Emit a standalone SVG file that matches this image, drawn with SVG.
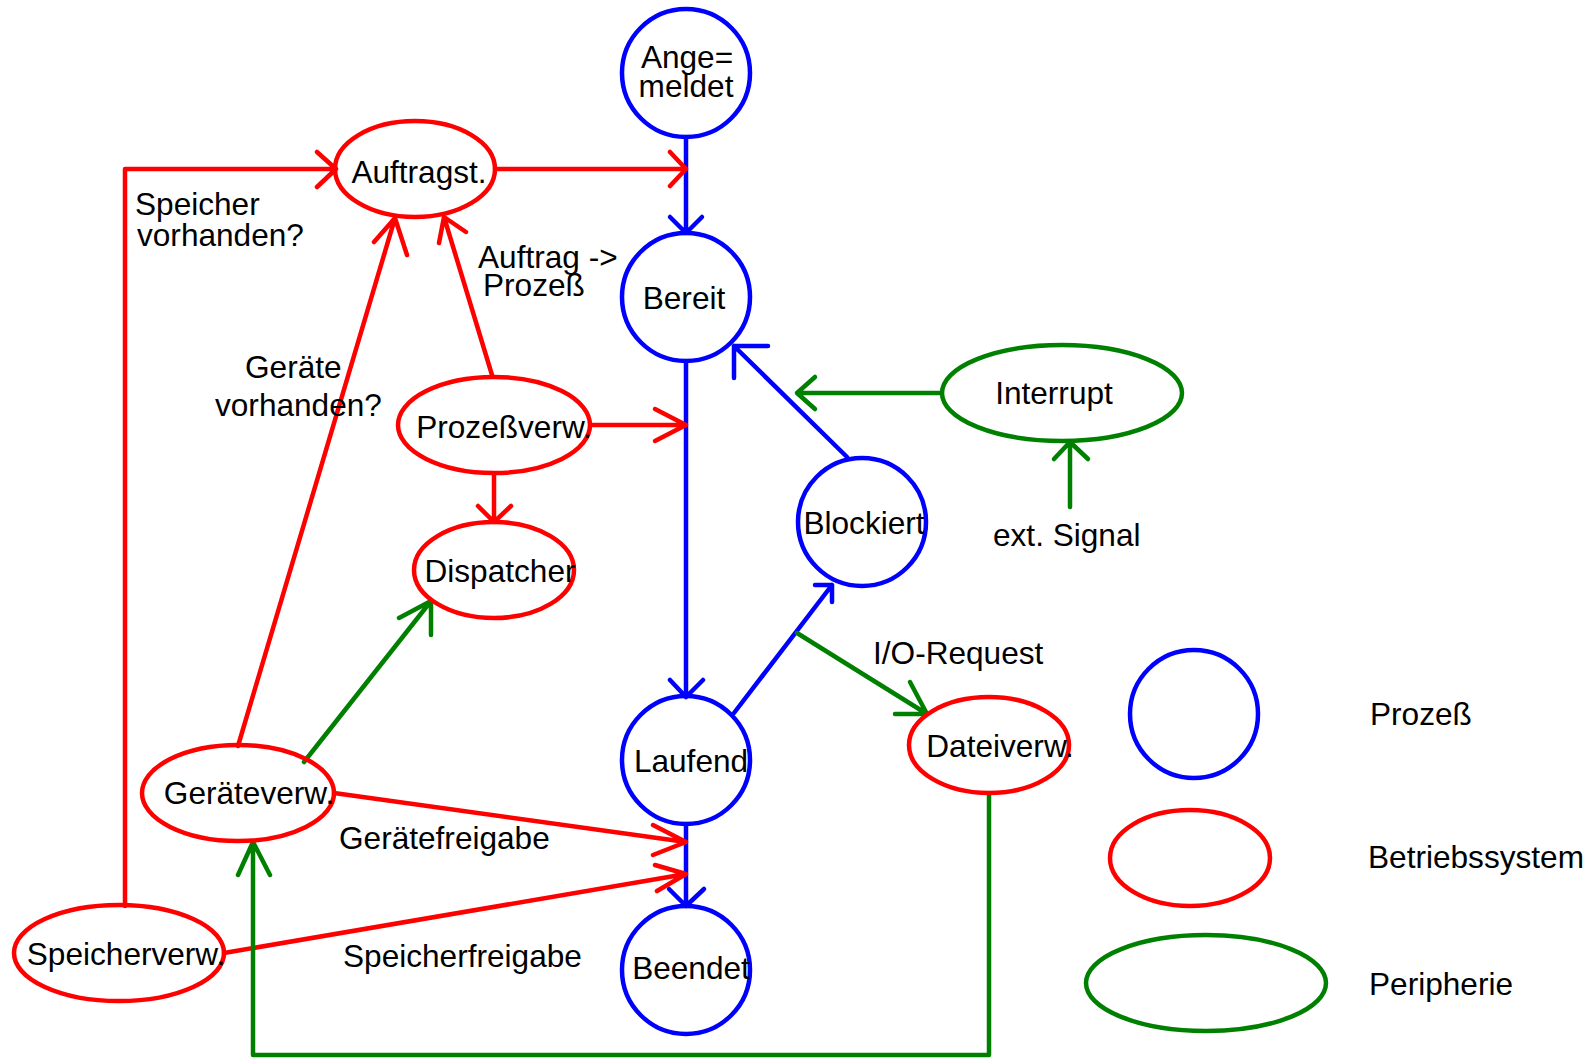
<svg xmlns="http://www.w3.org/2000/svg" width="1592" height="1058" viewBox="0 0 1592 1058">
<style>
text{font-family:"Liberation Sans",Arial,sans-serif;font-size:31.6px;fill:#000}
.c{text-anchor:middle}
.p{fill:none;stroke:#0000ff;stroke-width:4.5}
.o{fill:none;stroke:#ff0000;stroke-width:4.5}
.g{fill:none;stroke:#008000;stroke-width:4.5}
.cb{fill:none;stroke:#0000ff;stroke-width:4.5;stroke-linecap:round;stroke-linejoin:round}
.cr{fill:none;stroke:#ff0000;stroke-width:4.5;stroke-linecap:round;stroke-linejoin:round}
.cg{fill:none;stroke:#008000;stroke-width:4.5;stroke-linecap:round;stroke-linejoin:round}
</style>
<rect width="1592" height="1058" fill="#fff"/>
<g id="connectors">
<!-- blue -->
<path class="cb" d="M686 137 L686 233 M670 217 L686 233 L702 217"/>
<path class="cb" d="M686 361 L686 697 M670 680 L686 697 L703 680"/>
<path class="cb" d="M686 824 L686 906 M669 889 L686 906 L704 889"/>
<path class="cb" d="M734 713 L832 585 M815 585 L832 585 L832 602"/>
<path class="cb" d="M847 457 L734 346 M768 346 L734 346 L734 378"/>
<!-- red -->
<path class="cr" d="M125 906 L125 169 L336 169 M317 152 L336 169 L317 187"/>
<path class="cr" d="M495 169 L686 169 M670 152 L686 169 L670 186"/>
<path class="cr" d="M238 746 L395 218 M374 242 L395 218 L407 255"/>
<path class="cr" d="M492 375 L444 217 M439 243 L444 217 L466 232"/>
<path class="cr" d="M591 425 L686 425 M655 409 L686 425 L655 441"/>
<path class="cr" d="M494 474 L494 522 M478 506 L494 522 L511 506"/>
<path class="cr" d="M334 793 L686 842 M653 825 L686 842 L653 855"/>
<path class="cr" d="M224 953 L686 874 M655 865 L686 874 L657 891"/>
<!-- green -->
<path class="cg" d="M941 393 L797 393 M815 377 L797 393 L815 409"/>
<path class="cg" d="M1070 507 L1070 442 M1054 459 L1070 442 L1088 459"/>
<path class="cg" d="M304 762 L431 601 M399 618 L431 601 L431 635"/>
<path class="cg" d="M797 633 L927 714 M910 682 L927 714 L895 714"/>
<path class="cg" d="M989 793 L989 1055 L253 1055 L253 842 M238 875 L253 842 L270 875"/>
</g>
<g id="n-angemeldet"><ellipse class="p" cx="686" cy="73" rx="64" ry="64"/><text class="c" x="687" y="68">Ange=</text><text class="c" x="686" y="97">meldet</text></g>
<g id="n-bereit"><ellipse class="p" cx="686" cy="297" rx="64" ry="64"/><text class="c" x="684" y="309">Bereit</text></g>
<g id="n-laufend"><ellipse class="p" cx="686" cy="760" rx="64" ry="64"/><text class="c" x="691" y="772">Laufend</text></g>
<g id="n-beendet"><ellipse class="p" cx="686" cy="970" rx="64" ry="64"/><text class="c" x="691" y="979">Beendet</text></g>
<g id="n-blockiert"><ellipse class="p" cx="862" cy="522" rx="64" ry="64"/><text class="c" x="864" y="534">Blockiert</text></g>
<g id="n-auftragst"><ellipse class="o" cx="415" cy="169" rx="80" ry="48"/><text class="c" x="419" y="183">Auftragst.</text></g>
<g id="n-prozessverw"><ellipse class="o" cx="494" cy="425" rx="96" ry="48"/><text class="c" x="504" y="438">Prozeßverw.</text></g>
<g id="n-dispatcher"><ellipse class="o" cx="494" cy="570" rx="80" ry="48"/><text class="c" x="500" y="582">Dispatcher</text></g>
<g id="n-geraeteverw"><ellipse class="o" cx="238" cy="793" rx="96" ry="48"/><text class="c" x="249" y="804">Geräteverw.</text></g>
<g id="n-speicherverw"><ellipse class="o" cx="119" cy="953" rx="105" ry="48"/><text class="c" x="126" y="965">Speicherverw.</text></g>
<g id="n-dateiverw"><ellipse class="o" cx="989" cy="745" rx="80" ry="48"/><text class="c" x="1000" y="757">Dateiverw.</text></g>
<g id="n-interrupt"><ellipse class="g" cx="1062" cy="393" rx="120" ry="48"/><text class="c" x="1054" y="404">Interrupt</text></g>
<g id="labels">
<text x="135" y="215">Speicher</text>
<text x="137" y="246">vorhanden?</text>
<text x="245" y="378">Geräte</text>
<text x="215" y="416">vorhanden?</text>
<text x="478" y="268">Auftrag -&gt;</text>
<text x="483" y="296">Prozeß</text>
<text x="993" y="546">ext. Signal</text>
<text x="873" y="664">I/O-Request</text>
<text x="339" y="849">Gerätefreigabe</text>
<text x="343" y="967">Speicherfreigabe</text>
</g>
<g id="legend">
<ellipse class="p" cx="1194" cy="714" rx="64" ry="64"/>
<ellipse class="o" cx="1190" cy="858" rx="80" ry="48"/>
<ellipse class="g" cx="1206" cy="983" rx="120" ry="48"/>
<text x="1370" y="725">Prozeß</text>
<text x="1368" y="868">Betriebssystem</text>
<text x="1369" y="995">Peripherie</text>
</g>
</svg>
